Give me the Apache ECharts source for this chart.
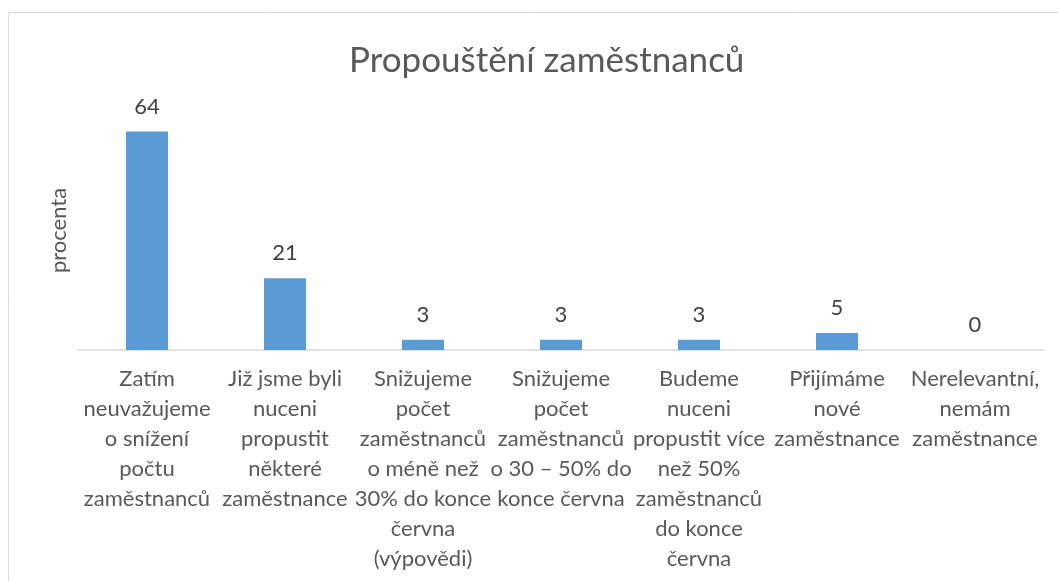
<!DOCTYPE html>
<html>
<head>
<meta charset="utf-8">
<script src="https://cdn.jsdelivr.net/npm/echarts@6/dist/echarts.min.js"></script>
<style>
  html, body { margin: 0; padding: 0; background: #fff; }
  #chart { width: 1058px; height: 581px; }
</style>
</head>
<body>
<div id="chart"></div>
<script>
const categories = [
  'Zatím\nneuvažujeme\no snížení\npočtu\nzaměstnanců',
  'Již jsme byli\nnuceni\npropustit\nněkteré\nzaměstnance',
  'Snižujeme\npočet\nzaměstnanců\no méně než\n30% do konce\nčervna\n(výpovědi)',
  'Snižujeme\npočet\nzaměstnanců\no 30 – 50% do\nkonce června',
  'Budeme\nnuceni\npropustit více\nnež 50%\nzaměstnanců\ndo konce\nčervna',
  'Přijímáme\nnové\nzaměstnance',
  'Nerelevantní,\nnemám\nzaměstnance'
]
const values = [64, 21, 3, 3, 3, 5, 0]

const font = 'Lato, "Open Sans", sans-serif'
const chart = echarts.init(document.getElementById('chart'))

chart.setOption({
  animation: false,
  textStyle: { fontFamily: font },
  title: {
    text: 'Propouštění zaměstnanců',
    left: 344,
    top: 38,
    textStyle: { fontFamily: font, fontSize: 35, fontWeight: 'normal', color: '#595959' }
  },
  graphic: [{
    type: 'rect',
    shape: { x: 8.5, y: 12.5, width: 1100, height: 600 },
    style: { fill: 'none', stroke: '#d9d9d9', lineWidth: 1 },
    silent: true
  }],
  grid: {
    left: 78,
    right: 14,
    top: 111,
    bottom: 231
  },
  xAxis: {
    type: 'category',
    data: categories,
    axisLine: { lineStyle: { color: '#d9d9d9', width: 1.5 } },
    axisTick: { show: false },
    axisLabel: {
      interval: 0,
      margin: 14,
      fontSize: 22,
      lineHeight: 30,
      color: '#595959',
      fontFamily: font,
      align: 'center'
    }
  },
  yAxis: {
    type: 'value',
    min: 0,
    max: 70,
    interval: 10,
    name: 'procenta',
    nameLocation: 'middle',
    nameRotate: 90,
    nameGap: 8,
    nameTextStyle: { fontFamily: font, fontSize: 22, color: '#595959' },
    axisLine: { show: false },
    axisTick: { show: false },
    axisLabel: { show: false },
    splitLine: { show: false }
  },
  series: [{
    type: 'bar',
    data: values,
    barWidth: 42,
    itemStyle: { color: '#5b9bd5' },
    label: {
      show: true,
      position: 'top',
      distance: 14,
      fontSize: 22,
      color: '#404040',
      fontFamily: font
    }
  }]
})
</script>
</body>
</html>
